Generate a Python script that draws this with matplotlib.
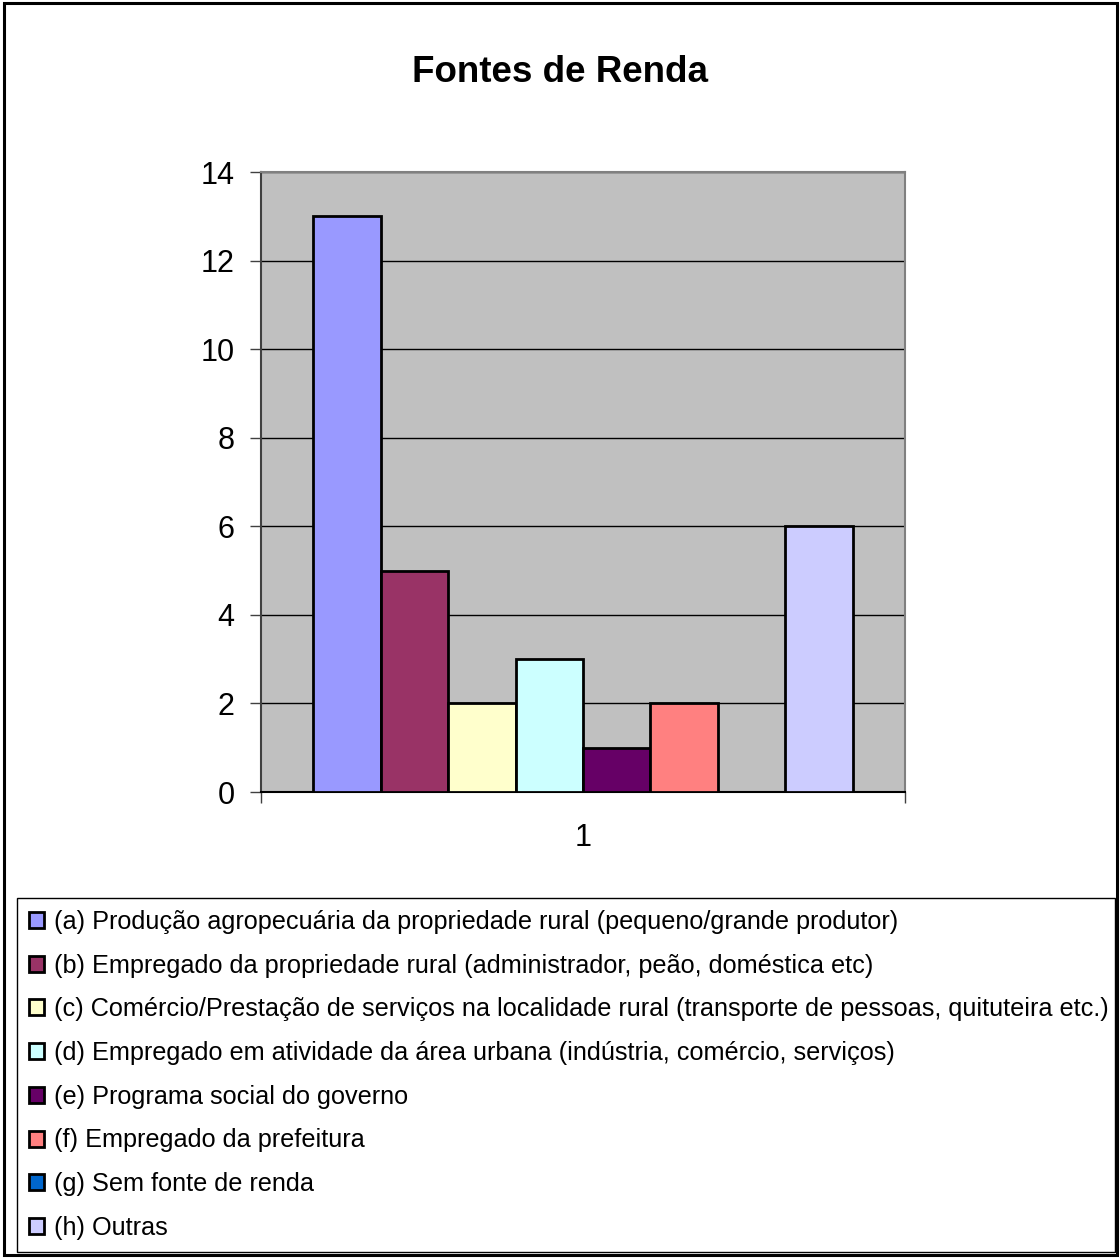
import matplotlib
matplotlib.use("Agg")
import matplotlib.pyplot as plt
from matplotlib.patches import Rectangle

# Income sources and their counts
labels = [
    "(a) Produção agropecuária da propriedade rural (pequeno/grande produtor)",
    "(b) Empregado da propriedade rural (administrador, peão, doméstica etc)",
    "(c) Comércio/Prestação de serviços na localidade rural (transporte de pessoas, quituteira etc.)",
    "(d) Empregado em atividade da área urbana (indústria, comércio, serviços)",
    "(e) Programa social do governo",
    "(f) Empregado da prefeitura",
    "(g) Sem fonte de renda",
    "(h) Outras",
]
values = [13, 5, 2, 3, 1, 2, 0, 6]
colors = ["#9999FF", "#993366", "#FFFFCC", "#CCFFFF",
          "#660066", "#FF8080", "#0066CC", "#CCCCFF"]
category = ["1"]
yticks = [0, 2, 4, 6, 8, 10, 12, 14]

plt.rcParams["font.family"] = ["Liberation Sans", "DejaVu Sans"]

W, H = 1120, 1258
fig = plt.figure(figsize=(W / 100, H / 100), dpi=100)

# outer chart frame
fig.patches.append(Rectangle((4 / W, 3 / H), 1 - 7 / W, 1 - 6 / H,
                             transform=fig.transFigure, fill=False,
                             edgecolor="black", linewidth=2.2))

fig.text(560 / W, 1 - 72 / H, "Fontes de Renda", ha="center", va="center",
         fontsize=26.5, fontweight="bold")

ax = fig.add_axes([261 / W, 1 - 792 / H, 644 / W, 620 / H])
ax.set_facecolor("#C0C0C0")

n = len(values)
bw = 0.1047
handles = []
for i, (v, c, lab) in enumerate(zip(values, colors, labels)):
    b = ax.bar(0 + (i - (n - 1) / 2) * bw, v, width=bw, color=c,
               edgecolor="black", linewidth=2, label=lab, zorder=3)
    handles.append(b)

ax.set_xlim(-0.5, 0.5)
ax.set_ylim(0, 14)
ax.set_yticks(yticks)
ax.set_yticklabels([str(t) for t in yticks], fontsize=22)
ax.yaxis.grid(True, color="black", linewidth=1.0, zorder=1)
ax.set_axisbelow(True)

ax.set_xticks([-0.5, 0.5])
ax.set_xticklabels(["", ""])
ax.tick_params(axis="both", direction="out", length=8, width=1,
               color="#404040", pad=11)
fig.text(583 / W, 1 - 838 / H, category[0], ha="center", va="center",
         fontsize=22)

for side in ["top", "right"]:
    ax.spines[side].set_color("#808080")
    ax.spines[side].set_linewidth(1.5)
ax.spines["left"].set_color("#404040")
ax.spines["left"].set_linewidth(1.5)
ax.spines["bottom"].set_color("black")
ax.spines["bottom"].set_linewidth(1.5)

leg = fig.legend(handles=handles, labels=labels, loc="upper left",
                 bbox_to_anchor=(17 / W, 1 - 1254 / H, 1098 / W, 356 / H),
                 mode="expand", fontsize=18.2, frameon=True, fancybox=False,
                 framealpha=1, edgecolor="black", borderpad=0.47,
                 labelspacing=0.78, handlelength=0.6, handleheight=0.6,
                 handletextpad=0.4, borderaxespad=0)
leg.get_frame().set_linewidth(1.0)

fig.savefig("out.png", dpi=100)
